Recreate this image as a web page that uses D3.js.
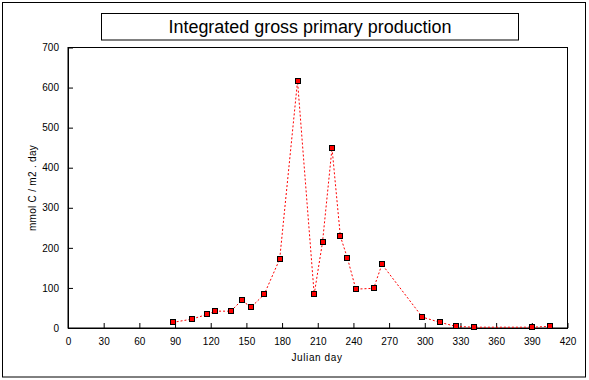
<!DOCTYPE html>
<html><head><meta charset="utf-8">
<script src="https://cdn.jsdelivr.net/npm/d3@7"></script>
<style>body{margin:0;background:#fff}svg{display:block;font-family:"Liberation Sans",Arial,sans-serif}</style>
</head><body><svg id="c" width="589" height="380"></svg>
<script>
const title = "Integrated gross primary production";
const xLabel = "Julian day";
const yLabel = "mmol C / m2 . day";
const days = [88,104,117,124,137,146,154,165,178,193,207,214,222,229,235,242,257,264,298,313,326,341,390,405];
const gpp  = [14,22,34,42,42,69,52,84,172,616,84,214,449,229,174,97,99,159,27,14,4,2,2,4];
const xTicks = [0,30,60,90,120,150,180,210,240,270,300,330,360,390,420];
const yTicks = [0,100,200,300,400,500,600,700];

const svg = d3.select("#c");
const L=68, R=567.5, T=47.5, B=328;
const x = d3.scaleLinear().domain([0,420]).range([L,R]);
const y = d3.scaleLinear().domain([0,700]).range([B,T]);

svg.append("rect").attr("x",2.5).attr("y",2.5).attr("width",583).attr("height",374.5)
  .attr("fill","none").attr("stroke","#000");
svg.append("rect").attr("x",101.5).attr("y",13.5).attr("width",417).attr("height",26.5)
  .attr("fill","none").attr("stroke","#000");
svg.append("text").attr("x",310).attr("y",33).attr("text-anchor","middle")
  .attr("font-size",18).attr("textLength",283).attr("lengthAdjust","spacingAndGlyphs").text(title);

svg.append("rect").attr("x",L).attr("y",T).attr("width",R-L).attr("height",B-T)
  .attr("fill","none").attr("stroke","#000");

const xa = svg.append("g").attr("transform",`translate(0,${B})`)
  .call(d3.axisBottom(x).tickValues(xTicks).tickSizeInner(-5).tickSizeOuter(0).tickPadding(10));
const ya = svg.append("g").attr("transform",`translate(${L},0)`)
  .call(d3.axisLeft(y).tickValues(yTicks).tickSizeInner(-5).tickSizeOuter(0).tickPadding(9));
[xa,ya].forEach(a=>{a.select(".domain").attr("stroke","#000");
  a.selectAll("text").attr("font-size",10).attr("font-family","Liberation Sans, Arial, sans-serif").attr("fill","#000");
  a.selectAll("line").attr("stroke","#000");});

svg.append("text").attr("x",317).attr("y",361).attr("text-anchor","middle")
  .attr("font-size",10).attr("letter-spacing",0.6).text(xLabel);
svg.append("text").attr("transform","translate(36,188) rotate(-90)").attr("text-anchor","middle")
  .attr("font-size",10).attr("letter-spacing",0.3).text(yLabel);

const pts = days.map((d,i)=>[d,gpp[i]]);
svg.append("path").datum(pts)
  .attr("d",d3.line().x(d=>x(d[0])).y(d=>y(d[1])))
  .attr("fill","none").attr("stroke","#ff0000").attr("stroke-width",1).attr("stroke-dasharray","2,2");
svg.selectAll("rect.m").data(pts).enter().append("rect").attr("class","m")
  .attr("x",d=>Math.round(x(d[0]))-2.5).attr("y",d=>Math.round(y(d[1]))-2.5)
  .attr("width",5).attr("height",5).attr("fill","#ff0000").attr("stroke","#000").attr("stroke-width",1);
</script></body></html>
